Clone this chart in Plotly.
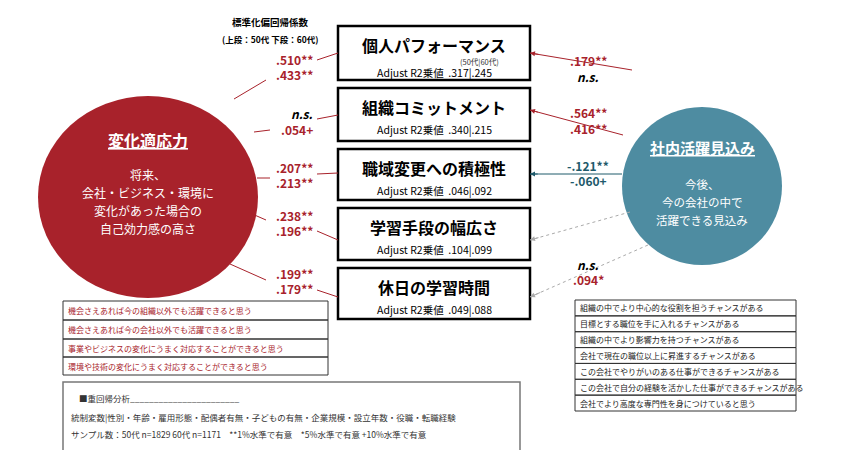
import plotly.graph_objects as go

# %% dados
outcomes = ["個人パフォーマンス", "組織コミットメント", "職域変更への積極性", "学習手段の幅広さ", "休日の学習時間"]
r2_50 = [".317", ".340", ".046", ".104", ".049"]
r2_60 = [".245", ".215", ".092", ".099", ".088"]
left_50 = [".510**", "n.s.", ".207**", ".238**", ".199**"]
left_60 = [".433**", ".054+", ".213**", ".196**", ".179**"]
right_50 = [".179**", ".564**", "-.121**", "", "n.s."]
right_60 = ["n.s.", ".416**", "-.060+", "", ".094*"]
left_items = ["機会さえあれば今の組織以外でも活躍できると思う",
              "機会さえあれば今の会社以外でも活躍できると思う",
              "事業やビジネスの変化にうまく対応することができると思う",
              "環境や技術の変化にうまく対応することができると思う"]
right_items = ["組織の中でより中心的な役割を担うチャンスがある",
               "目標とする職位を手に入れるチャンスがある",
               "組織の中でより影響力を持つチャンスがある",
               "会社で現在の職位以上に昇進するチャンスがある",
               "この会社でやりがいのある仕事ができるチャンスがある",
               "この会社で自分の経験を活かした仕事ができるチャンスがある",
               "会社でより高度な専門性を身につけていると思う"]

RED = "#A8222B"
TEAL = "#4E8CA1"
DTEAL = "#1E5A6B"
FONT = "Noto Sans CJK JP"

fig = go.Figure()
shapes = []
ann = []

def txt(x, y, t, size=11, color="black", anchor="center", bold=False, italic=False):
    if bold:
        t = f"<b>{t}</b>"
    if italic:
        t = f"<i>{t}</i>"
    ann.append(dict(x=x, y=y, text=t, showarrow=False, xanchor=anchor, yanchor="middle",
                    borderpad=0, font=dict(size=size, color=color, family=FONT)))

def line(x0, y0, x1, y1, color, dash="solid"):
    shapes.append(dict(type="line", x0=x0, y0=y0, x1=x1, y1=y1,
                       line=dict(color=color, width=1, dash=dash)))

def arrow(x0, y0, x1, y1, color, dash="solid"):
    line(x0, y0, x1, y1, color, dash)
    ann.append(dict(x=x1, y=y1, ax=x0 + (x1 - x0) * 0.9, ay=y0 + (y1 - y0) * 0.9,
                    xref="x", yref="y", axref="x", ayref="y", text="", showarrow=True,
                    arrowhead=2, arrowsize=1, arrowwidth=1, arrowcolor=color))

# circulos
shapes.append(dict(type="circle", x0=30, x1=250, y0=88, y1=290, fillcolor=RED, line=dict(width=0), layer="below"))
shapes.append(dict(type="circle", x0=614, x1=774, y0=99, y1=257, fillcolor=TEAL, line=dict(width=0), layer="below"))
txt(140, 132, "<u>変化適応力</u>", 16, "white", bold=True)
for i, s in enumerate(["将来、", "会社・ビジネス・環境に", "変化があった場合の", "自己効力感の高さ"]):
    txt(140, 166 + i * 18, s, 12, "white")
txt(694, 139, "<u>社内活躍見込み</u>", 15, "white", bold=True)
for i, s in enumerate(["今後、", "今の会社の中で", "活躍できる見込み"]):
    txt(694, 176 + i * 18, s, 11.5, "white")

# caixas centrais
box_top = [18, 80, 141, 200, 260]
box_bot = [72, 133, 192, 252, 311]
for i, name in enumerate(outcomes):
    y0, y1 = box_top[i], box_bot[i]
    shapes.append(dict(type="rect", x0=330, x1=522, y0=y0, y1=y1, fillcolor="white",
                       line=dict(color="black", width=2.5)))
    if i == 0:
        txt(426, 37, name, 16, bold=True)
        txt(471, 53, "(50代|60代)", 7.5, "#333")
        txt(426, 64, f"Adjust R2乗値  {r2_50[i]}|{r2_60[i]}", 10.5)
    else:
        txt(426, y0 + 19, name, 16, bold=True)
        txt(426, y0 + 41, f"Adjust R2乗値  {r2_50[i]}|{r2_60[i]}", 10.5)

txt(262, 14, "標準化偏回帰係数", 9.5, bold=True)
txt(262, 31, "(上段：50代 下段：60代)", 8.5, bold=True)

# setas da esquerda
left_y = [(51, 66), (105, 121), (159, 174), (207, 222), (265, 280)]
for i, (ya, yb) in enumerate(left_y):
    c = "black" if left_50[i] == "n.s." else RED
    txt(306, ya, left_50[i], 12, c, "right", bold=True, italic=left_50[i] == "n.s.")
    txt(306, yb, left_60[i], 12, RED, "right", bold=True)
left_lines = [((226, 91), (258, 72), (309, 52), (330, 45)),
              ((246, 124), (262, 122), (309, 111), (330, 107)),
              ((249, 170), (262, 170), (309, 166), (330, 165)),
              ((242, 205), (258, 212), (309, 223), (330, 232)),
              ((222, 256), (258, 272), (309, 282), (330, 289))]
for a, b, c, d in left_lines:
    line(a[0], a[1], b[0], b[1], RED)
    arrow(c[0], c[1], d[0], d[1], RED)

# setas da direita
right_y = [(52, 68), (104, 120), (157, 172), (0, 0), (256, 271)]
right_col = [RED, RED, DTEAL, None, RED]
for i, (ya, yb) in enumerate(right_y):
    if not right_50[i]:
        continue
    for s, y in ((right_50[i], ya), (right_60[i], yb)):
        ns = s == "n.s."
        txt(580, y, s, 12, "black" if ns else right_col[i], "center", bold=True, italic=ns)
arrow(624, 62, 522, 45, RED)
arrow(615, 127, 522, 102, RED)
arrow(614, 166, 522, 166, DTEAL)
arrow(622, 204, 522, 232, "#AAAAAA", "dot")
arrow(640, 237, 522, 289, "#AAAAAA", "dot")

# tabelas de itens
lrows = [293, 312, 331, 349, 367]
for i, s in enumerate(left_items):
    shapes.append(dict(type="rect", x0=55, x1=320, y0=lrows[i], y1=lrows[i + 1],
                       line=dict(color="#333", width=1)))
    txt(59, (lrows[i] + lrows[i + 1]) / 2, s, 8, RED, "left")
rh = (403 - 292) / 7
for i, s in enumerate(right_items):
    y0 = 292 + i * rh
    shapes.append(dict(type="rect", x0=567, x1=788, y0=y0, y1=y0 + rh,
                       line=dict(color="#333", width=1)))
    txt(571, y0 + rh / 2, s, 8, "#222", "left")

# nota
shapes.append(dict(type="rect", x0=55, x1=512, y0=374, y1=446, line=dict(color="#777", width=1.5)))
txt(70, 390, "■重回帰分析_______________________", 8.5, "#333", "left")
txt(62, 409, "統制変数|性別・年齢・雇用形態・配偶者有無・子どもの有無・企業規模・設立年数・役職・転職経験", 8.5, "#333", "left")
txt(62, 426, "サンプル数：50代 n=1829 60代 n=1171　**1%水準で有意　*5%水準で有意 +10%水準で有意", 8.5, "#333", "left")

fig.update_layout(
    width=846, height=450, margin=dict(l=0, r=0, t=0, b=0),
    plot_bgcolor="white", paper_bgcolor="white",
    xaxis=dict(range=[0, 846], visible=False, fixedrange=True),
    yaxis=dict(range=[450, 0], visible=False, fixedrange=True),
    shapes=shapes, annotations=ann, showlegend=False,
)
fig.write_html("out.html")
